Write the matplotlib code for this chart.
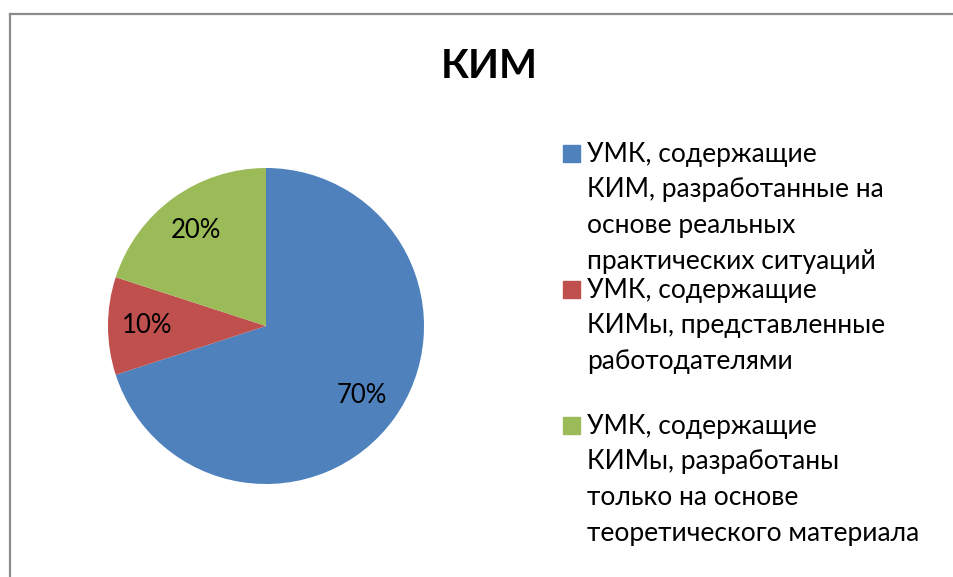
import matplotlib
matplotlib.use("Agg")
import matplotlib.pyplot as plt
from matplotlib.patches import Rectangle
from matplotlib.lines import Line2D

title = "КИМ"
labels = [
    "УМК, содержащие\nКИМ, разработанные на\nоснове реальных\nпрактических ситуаций",
    "УМК, содержащие\nКИМы, представленные\nработодателями",
    "УМК, содержащие\nКИМы, разработаны\nтолько на основе\nтеоретического материала",
]
values = [70, 10, 20]
colors = ["#4F81BD", "#C0504D", "#9BBB59"]

FONT = ["Lato", "DejaVu Sans"]
plt.rcParams["font.family"] = FONT

W, H = 954, 577
fig = plt.figure(figsize=(W / 100, H / 100), dpi=100)

def fx(px):
    return px / W

def fy(py):
    return 1 - py / H

# frame
fig.add_artist(Line2D([fx(10), fx(10)], [fy(14), 0], color="#8c8c8c", lw=1.6))
fig.add_artist(Line2D([fx(10), 1], [fy(14), fy(14)], color="#8c8c8c", lw=1.6))

# pie
cx, cy, r = 266, 326, 158
ax = fig.add_axes([fx(cx - r), fy(cy + r), (2 * r) / W, (2 * r) / H])
ax.pie(values, colors=colors, startangle=90, counterclock=False,
       autopct=lambda p: f"{p:.0f}%", pctdistance=0.75, radius=1,
       textprops=dict(fontsize=18.5, color="black"))
ax.set_xlim(-1, 1)
ax.set_ylim(-1, 1)
ax.set_aspect("equal")
ax.axis("off")

fig.text(fx(489), fy(78), title, ha="center", va="baseline",
         fontsize=29, fontweight="bold")

# legend
entry_y = [162, 298, 434]
step = 35.5
for lab, col, y in zip(labels, colors, entry_y):
    fig.add_artist(Rectangle((fx(563), fy(y)), 17 / W, 17 / H,
                             color=col, transform=fig.transFigure))
    for i, line in enumerate(lab.split("\n")):
        fig.text(fx(587), fy(y + i * step), line, ha="left", va="baseline",
                 fontsize=19)

fig.savefig("out.png", dpi=100)
